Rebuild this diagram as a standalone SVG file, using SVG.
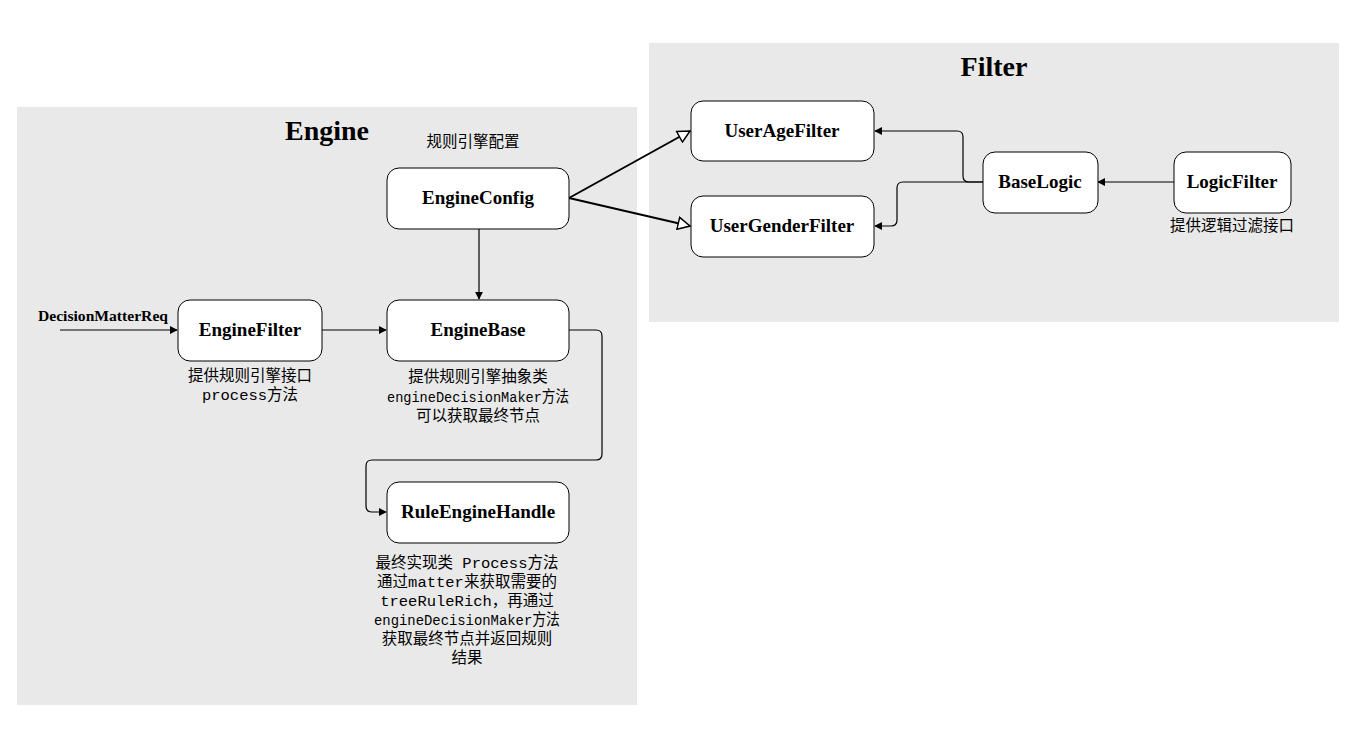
<svg xmlns="http://www.w3.org/2000/svg" width="1371" height="733" viewBox="0 0 1371 733">
<style>
.bg{fill:#fff}
.cont{fill:#e9e9e9;stroke:none}
.node rect{fill:#fff;stroke:#000;stroke-width:1}
.lbl{font-family:"Liberation Serif","Times New Roman",serif;font-weight:bold;font-size:19px;fill:#000;text-anchor:middle}
.title{font-family:"Liberation Serif","Times New Roman",serif;font-weight:bold;font-size:28px;fill:#000;text-anchor:middle}
.note{font-family:"Liberation Mono","Noto Sans CJK SC",monospace;font-size:15.5px;fill:#000;text-anchor:middle}
.edge{fill:none;stroke:#000;stroke-width:1.2}
.hedge{fill:none;stroke:#000;stroke-width:2}
</style>
<defs>
<marker id="arr" viewBox="0 0 10 10" refX="9" refY="5" markerWidth="8" markerHeight="8" markerUnits="userSpaceOnUse" orient="auto">
<path d="M0,0 L10,5 L0,10 z" fill="#000"/>
</marker>
<marker id="tri" viewBox="0 0 14 14" refX="13" refY="7" markerWidth="14" markerHeight="14" markerUnits="userSpaceOnUse" orient="auto">
<path d="M1,1 L13,7 L1,13 z" fill="#fff" stroke="#000" stroke-width="1.5"/>
</marker>
</defs>
<rect class="bg" x="0" y="0" width="1371" height="733"/>
<g id="engine-container">
<rect class="cont" x="17" y="107" width="620" height="598"/>
<text class="title" x="327" y="140">Engine</text>
</g>
<g id="filter-container">
<rect class="cont" x="649" y="43" width="690" height="279"/>
<text class="title" x="994" y="76">Filter</text>
</g>
<g id="connectors">
<line class="edge" x1="60" y1="330" x2="177" y2="330" marker-end="url(#arr)"/>
<line class="edge" x1="322" y1="330" x2="386" y2="330" marker-end="url(#arr)"/>
<line class="edge" x1="479" y1="229" x2="479" y2="299" marker-end="url(#arr)"/>
<path class="edge" d="M569,330 H596 Q602,330 602,336 V454 Q602,460 596,460 H372 Q366,460 366,466 V506 Q366,512 372,512 H386" marker-end="url(#arr)"/>
<line class="hedge" x1="569" y1="198" x2="690" y2="131" marker-end="url(#tri)"/>
<line class="hedge" x1="569" y1="198" x2="690" y2="226" marker-end="url(#tri)"/>
<path class="edge" d="M983,182 H969 Q963,182 963,176 V137 Q963,131 957,131 H875" marker-end="url(#arr)"/>
<path class="edge" d="M983,182 H903 Q897,182 897,188 V220 Q897,226 891,226 H875" marker-end="url(#arr)"/>
<line class="edge" x1="1174" y1="182" x2="1098" y2="182" marker-end="url(#arr)"/>
<text x="38" y="321" textLength="130" lengthAdjust="spacingAndGlyphs" style="font-family:'Liberation Serif','Times New Roman',serif;font-weight:bold;font-size:15px">DecisionMatterReq</text>
</g>
<g id="EngineConfig" class="node">
<rect x="387" y="168" width="182" height="61" rx="12"/>
<text class="lbl" x="478" y="204">EngineConfig</text>
<text class="note" x="473" y="147">规则引擎配置</text>
</g>
<g id="EngineFilter" class="node">
<rect x="178" y="300" width="144" height="61" rx="12"/>
<text class="lbl" x="250" y="336">EngineFilter</text>
<text class="note" x="250" y="381">提供规则引擎接口</text>
<text class="note" x="250" y="400">process方法</text>
</g>
<g id="EngineBase" class="node">
<rect x="387" y="300" width="182" height="61" rx="12"/>
<text class="lbl" x="478" y="336">EngineBase</text>
<text class="note" x="478" y="382">提供规则引擎抽象类</text>
<text class="note" x="478" y="402" textLength="182" lengthAdjust="spacingAndGlyphs">engineDecisionMaker方法</text>
<text class="note" x="478" y="421">可以获取最终节点</text>
</g>
<g id="RuleEngineHandle" class="node">
<rect x="387" y="482" width="182" height="61" rx="12"/>
<text class="lbl" x="478" y="518">RuleEngineHandle</text>
<text class="note" x="467" y="568">最终实现类 Process方法</text>
<text class="note" x="467" y="587">通过matter来获取需要的</text>
<text class="note" x="467" y="606">treeRuleRich，再通过</text>
<text class="note" x="467" y="625" textLength="186" lengthAdjust="spacingAndGlyphs">engineDecisionMaker方法</text>
<text class="note" x="467" y="644">获取最终节点并返回规则</text>
<text class="note" x="467" y="663">结果</text>
</g>
<g id="UserAgeFilter" class="node">
<rect x="691" y="101" width="183" height="60" rx="12"/>
<text class="lbl" x="782" y="137">UserAgeFilter</text>
</g>
<g id="UserGenderFilter" class="node">
<rect x="691" y="196" width="183" height="61" rx="12"/>
<text class="lbl" x="782" y="232">UserGenderFilter</text>
</g>
<g id="BaseLogic" class="node">
<rect x="983" y="152" width="115" height="61" rx="12"/>
<text class="lbl" x="1040" y="188">BaseLogic</text>
</g>
<g id="LogicFilter" class="node">
<rect x="1174" y="152" width="117" height="61" rx="12"/>
<text class="lbl" x="1232" y="188">LogicFilter</text>
<text class="note" x="1232" y="231">提供逻辑过滤接口</text>
</g>
</svg>
